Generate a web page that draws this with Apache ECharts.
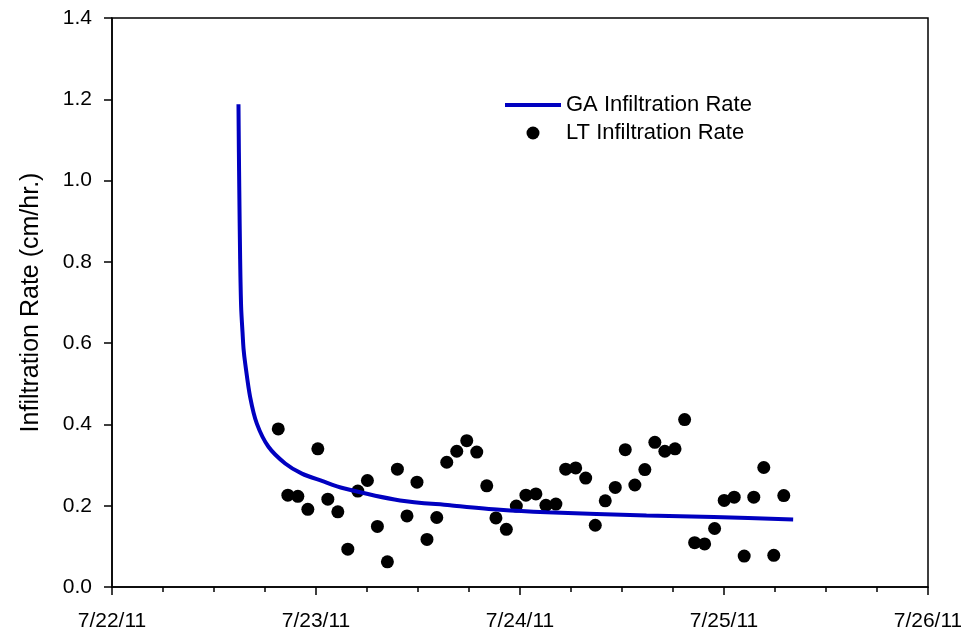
<!DOCTYPE html>
<html>
<head>
<meta charset="utf-8">
<title>Infiltration Rate</title>
<script src="https://cdn.jsdelivr.net/npm/echarts@6/dist/echarts.min.js"></script>
<style>
    html, body {margin: 0; padding: 0; background: #fff;}
    #chart {width: 961px; height: 632px;}
</style>
</head>
<body>
<div id="chart"></div>
<script>
// x values are days since 7/22/11 00:00
var dayLabels = ['7/22/11', '7/23/11', '7/24/11', '7/25/11', '7/26/11'];

// GA Infiltration Rate (curve)
var gaDays = [0.620, 0.622, 0.624, 0.628, 0.633, 0.640, 0.645, 0.653, 0.677, 0.710,
    0.767, 0.849, 0.931, 1.029, 1.135, 1.412, 1.657, 1.902, 2.130, 2.620, 2.950, 3.339];
var gaRate = [1.188, 1.070, 0.976, 0.812, 0.689, 0.625, 0.585, 0.550, 0.468, 0.402,
    0.345, 0.304, 0.279, 0.261, 0.243, 0.213, 0.201, 0.190, 0.184, 0.176, 0.172, 0.166];

// LT Infiltration Rate (measured points)
var ltDays = [0.815, 0.862, 0.911, 0.960, 1.009, 1.058, 1.107, 1.156, 1.205, 1.252,
    1.301, 1.350, 1.399, 1.446, 1.495, 1.544, 1.592, 1.641, 1.690, 1.739,
    1.788, 1.837, 1.882, 1.933, 1.982, 2.029, 2.078, 2.127, 2.176, 2.224,
    2.273, 2.322, 2.369, 2.418, 2.467, 2.516, 2.563, 2.612, 2.661, 2.710,
    2.760, 2.807, 2.856, 2.905, 2.954, 3.001, 3.050, 3.099, 3.146, 3.195,
    3.244, 3.293];
var ltRate = [0.389, 0.226, 0.223, 0.191, 0.340, 0.216, 0.185, 0.093, 0.236, 0.262,
    0.149, 0.062, 0.290, 0.175, 0.258, 0.117, 0.171, 0.307, 0.334, 0.360,
    0.332, 0.249, 0.170, 0.142, 0.199, 0.226, 0.229, 0.201, 0.204, 0.290,
    0.293, 0.268, 0.152, 0.212, 0.245, 0.338, 0.251, 0.289, 0.356, 0.334,
    0.340, 0.412, 0.109, 0.106, 0.144, 0.213, 0.221, 0.076, 0.221, 0.294,
    0.078, 0.225];

function pairs(xs, ys) {
    var out = [];
    for (var i = 0; i < xs.length; i++) {
        out.push([xs[i], ys[i]]);
    }
    return out;
}

var font = 'Liberation Sans, Arial, sans-serif';

var option = {
    animation: false,
    textStyle: {fontFamily: font},
    grid: {
        left: 112, right: 33, top: 18, bottom: 45,
        outerBoundsMode: 'none',
        containLabel: false,
        show: true, borderColor: '#000', borderWidth: 1.5
    },
    legend: {
        orient: 'vertical',
        left: 500,
        top: 89,
        itemWidth: 56,
        itemHeight: 13,
        itemGap: 6,
        textStyle: {fontFamily: font, fontSize: 22, color: '#000'},
        data: [
            {name: 'GA Infiltration Rate', icon: 'path://M0,0 L56,0 L56,4 L0,4 Z'},
            {name: 'LT Infiltration Rate', icon: 'circle'}
        ]
    },
    xAxis: {
        type: 'value',
        min: 0,
        max: 4,
        interval: 1,
        splitLine: {show: false},
        axisLine: {lineStyle: {color: '#000', width: 1.5}},
        axisTick: {length: 8, lineStyle: {color: '#000', width: 1.5}},
        minorTick: {show: true, splitNumber: 4, length: 5, lineStyle: {color: '#000', width: 1.5}},
        axisLabel: {
            margin: 24,
            fontSize: 21,
            color: '#000',
            fontFamily: font,
            formatter: function (v) { return dayLabels[Math.round(v)]; }
        }
    },
    yAxis: {
        type: 'value',
        min: 0,
        max: 1.4,
        interval: 0.2,
        name: 'Infiltration Rate (cm/hr.)',
        nameLocation: 'middle',
        nameGap: 68,
        nameTextStyle: {fontSize: 25, color: '#000', fontFamily: font},
        splitLine: {show: false},
        axisLine: {lineStyle: {color: '#000', width: 1.5}},
        axisTick: {length: 8, lineStyle: {color: '#000', width: 1.5}},
        axisLabel: {
            margin: 20,
            fontSize: 21,
            color: '#000',
            fontFamily: font,
            formatter: function (v) { return v.toFixed(1); }
        }
    },
    series: [
        {
            name: 'GA Infiltration Rate',
            type: 'line',
            data: pairs(gaDays, gaRate),
            symbol: 'none',
            smooth: 0.3,
            lineStyle: {color: '#0000c0', width: 4},
            itemStyle: {color: '#0000c0'}
        },
        {
            name: 'LT Infiltration Rate',
            type: 'scatter',
            data: pairs(ltDays, ltRate),
            symbol: 'circle',
            symbolSize: 13,
            itemStyle: {color: '#000', opacity: 1}
        }
    ]
};

var myChart = echarts.init(document.getElementById('chart'));
myChart.setOption(option);
</script>
</body>
</html>
